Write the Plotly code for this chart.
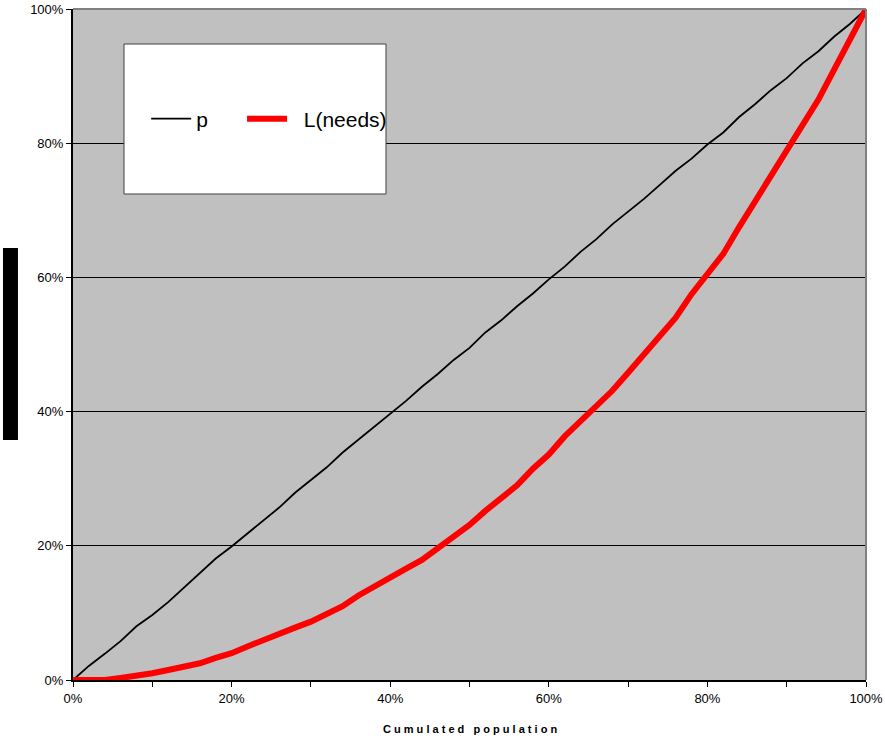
import plotly.graph_objects as go

# Cumulated population (%)
x_pop = [0, 2, 4, 6, 8, 10, 12, 14, 16, 18, 20, 22, 24, 26, 28, 30, 32, 34, 36, 38, 40,
         42, 44, 46, 48, 50, 52, 54, 56, 58, 60, 62, 64, 66, 68, 70, 72, 74, 76, 78, 80,
         82, 84, 86, 88, 90, 92, 94, 96, 98, 100]

# p (%)
p_vals = [0, 2.1, 3.9, 5.8, 8.0, 9.7, 11.6, 13.8, 15.9, 18.1, 19.9, 21.8, 23.8, 25.7, 27.9,
          29.8, 31.7, 33.9, 35.8, 37.7, 39.6, 41.6, 43.7, 45.6, 47.7, 49.5, 51.8, 53.6, 55.7,
          57.6, 59.7, 61.6, 63.8, 65.7, 67.9, 69.8, 71.7, 73.8, 75.9, 77.7, 79.8, 81.6, 83.9,
          85.8, 87.9, 89.7, 91.9, 93.7, 95.9, 97.8, 100]

# L(needs) (%)
l_vals = [0, 0, 0, 0.3, 0.6, 1.0, 1.5, 2.0, 2.5, 3.3, 4.0, 5.0, 6.0, 7.0, 7.8, 8.7, 9.8,
          11.0, 12.6, 14.0, 15.3, 16.6, 17.9, 19.7, 21.5, 23.1, 25.2, 27.0, 29.0, 31.5, 33.6,
          36.3, 38.5, 40.6, 43.1, 45.8, 48.5, 51.2, 54.0, 57.5, 60.5, 63.5, 67.5, 71.3, 75.3,
          78.8, 82.5, 86.5, 91.0, 95.5, 100]

x_ticks = [0, 10, 20, 30, 40, 50, 60, 70, 80, 90, 100]
x_ticktext = ["0%", "", "20%", "", "40%", "", "60%", "", "80%", "", "100%"]
y_ticks = [0, 20, 40, 60, 80, 100]
y_ticktext = ["0%", "20%", "40%", "60%", "80%", "100%"]

FONT = "Liberation Sans, Arial, sans-serif"
NB = "\u00a0"

fig = go.Figure()
fig.add_trace(go.Scatter(x=x_pop, y=p_vals, mode="lines", name="p" + NB * 5,
                         line=dict(color="black", width=1.8)))
fig.add_trace(go.Scatter(x=x_pop, y=l_vals, mode="lines", name=NB * 2 + "L(needs)",
                         line=dict(color="#FF0000", width=6)))

fig.update_layout(
    width=885, height=739,
    margin=dict(l=73, r=19, t=9, b=59, autoexpand=False),
    paper_bgcolor="white",
    plot_bgcolor="#C0C0C0",
    font=dict(family=FONT, size=13, color="black"),
    showlegend=True,
    legend=dict(
        orientation="h",
        x=0.0923, y=0.836, xanchor="left", yanchor="middle",
        bgcolor="rgba(0,0,0,0)",
        font=dict(family=FONT, size=21, color="black"),
        itemwidth=40,
        tracegroupgap=0,
    ),
    xaxis=dict(
        range=[0, 100], tickvals=x_ticks, ticktext=x_ticktext,
        showgrid=False, zeroline=False, automargin=False,
        showline=True, linecolor="black", linewidth=2,
        ticks="outside", ticklen=5, tickcolor="black", tickwidth=1,
        tickfont=dict(size=13),
    ),
    yaxis=dict(
        range=[0, 100], tickvals=y_ticks, ticktext=y_ticktext,
        showgrid=True, gridcolor="black", gridwidth=1, zeroline=False, automargin=False,
        showline=True, linecolor="black", linewidth=2,
        ticks="outside", ticklen=5, tickcolor="black", tickwidth=1,
        tickfont=dict(size=13),
    ),
    shapes=[
        # top and right plot border (gray)
        dict(type="line", xref="paper", yref="paper", x0=0, x1=1, y0=1, y1=1,
             line=dict(color="#808080", width=2), layer="above"),
        dict(type="line", xref="paper", yref="paper", x0=1, x1=1, y0=0, y1=1,
             line=dict(color="#808080", width=2), layer="above"),
        # legend box
        dict(type="rect", xref="paper", yref="paper",
             x0=0.0643, x1=0.3947, y0=0.7243, y1=0.9478,
             fillcolor="white", line=dict(color="#404040", width=1), layer="above"),
        # redacted y-axis title bar
        dict(type="rect", xref="paper", yref="paper",
             x0=-0.0883, x1=-0.0694, y0=0.3577, y1=0.6438,
             fillcolor="black", line=dict(width=0)),
    ],
    annotations=[
        dict(text="<b>C u m u l a t e d&nbsp;&nbsp; p o p u l a t i o n</b>",
             xref="paper", yref="paper", x=0.5, y=-0.073,
             xanchor="center", yanchor="middle", showarrow=False,
             font=dict(family=FONT, size=11, color="black")),
    ],
)

fig.write_html("out.html", config={"displayModeBar": False},
               post_script="document.body.style.margin='0';document.body.style.padding='0';")
